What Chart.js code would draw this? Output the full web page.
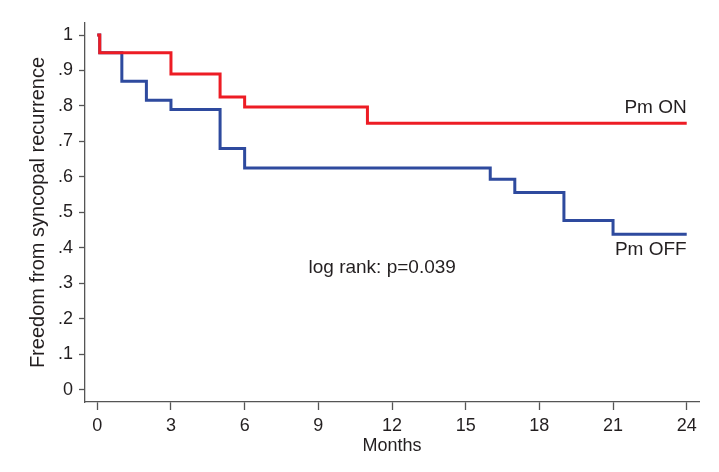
<!DOCTYPE html>
<html>
<head>
<meta charset="utf-8">
<script src="https://cdn.jsdelivr.net/npm/chart.js@4.4.0/dist/chart.umd.min.js"></script>
<style>
html,body{margin:0;padding:0;background:#fff;}
#wrap{width:719px;height:472px;position:relative;}
</style>
</head>
<body>
<div id="wrap"><canvas id="c"></canvas></div>
<script>
// Kaplan-Meier step data (time in months, survival after event)
const pmOnTimes   = [0, 0.1, 3, 5, 6, 11, 24];
const pmOnValues  = [1, 0.95, 0.89, 0.825, 0.797, 0.751, 0.751];
const pmOffTimes  = [0, 0.1, 1, 2, 3, 5, 6, 16, 17, 19, 21, 24];
const pmOffValues = [1, 0.95, 0.87, 0.816, 0.79, 0.68, 0.625, 0.593, 0.556, 0.477, 0.438, 0.438];
const xTickValues = [0, 3, 6, 9, 12, 15, 18, 21, 24];
const yTickValues = [0, 0.1, 0.2, 0.3, 0.4, 0.5, 0.6, 0.7, 0.8, 0.9, 1];
const yTickLabels = ["0", ".1", ".2", ".3", ".4", ".5", ".6", ".7", ".8", ".9", "1"];
const seriesNames = ["Pm ON", "Pm OFF"];
const annotationText = "log rank: p=0.039";

const FONT = "'Liberation Sans', Arial, sans-serif";
const TEXT = '#231f20';
const AXIS = '#555555';

const toPoints = (t, v) => t.map((x, i) => ({x: x, y: v[i]}));

const labelsPlugin = {
  id: 'labels',
  afterDatasetsDraw(chart) {
    const {ctx, scales: {x, y}} = chart;
    ctx.save();
    ctx.font = '19px ' + FONT;
    ctx.fillStyle = TEXT;
    ctx.textBaseline = 'middle';
    ctx.textAlign = 'right';
    ctx.fillText(seriesNames[0], x.getPixelForValue(24), y.getPixelForValue(0.794));
    ctx.fillText(seriesNames[1], x.getPixelForValue(24), y.getPixelForValue(0.395));
    ctx.textAlign = 'center';
    ctx.fillText(annotationText, x.getPixelForValue(11.6), y.getPixelForValue(0.345));
    ctx.restore();
  }
};

new Chart(document.getElementById('c'), {
  type: 'line',
  data: {
    datasets: [
      {
        label: seriesNames[0],
        data: toPoints(pmOnTimes, pmOnValues),
        borderColor: '#ed1c24',
        borderWidth: 3,
        stepped: 'before',
        pointRadius: 0,
        fill: false,
        order: 0,
        borderJoinStyle: 'miter'
      },
      {
        label: seriesNames[1],
        data: toPoints(pmOffTimes, pmOffValues),
        borderColor: '#2e4a9e',
        borderWidth: 3,
        stepped: 'before',
        pointRadius: 0,
        fill: false,
        order: 1,
        borderJoinStyle: 'miter'
      }
    ]
  },
  options: {
    responsive: true,
    maintainAspectRatio: false,
    animation: false,
    layout: {padding: {top: 23, right: 20, left: 0, bottom: 0}},
    plugins: {legend: {display: false}, tooltip: {enabled: false}},
    scales: {
      x: {
        type: 'linear',
        min: -0.5,
        max: 24.5,
        afterBuildTicks(scale) { scale.ticks = xTickValues.map(v => ({value: v})); },
        afterFit(scale) { scale.height = 70; },
        grid: {display: true, drawOnChartArea: false, drawTicks: true, tickLength: 8, color: AXIS, tickWidth: 1.3},
        border: {display: true, color: AXIS, width: 1.3},
        ticks: {color: TEXT, font: {family: FONT, size: 18}, padding: 5, maxRotation: 0, autoSkip: false},
        title: {display: true, text: 'Months', color: TEXT, font: {family: FONT, size: 18}, padding: {top: 0, bottom: 15}}
      },
      y: {
        type: 'linear',
        min: -0.035,
        max: 1.034,
        afterBuildTicks(scale) { scale.ticks = yTickValues.map(v => ({value: v})); },
        afterFit(scale) { scale.width = 85; },
        grid: {display: true, drawOnChartArea: false, drawTicks: true, tickLength: 6, color: AXIS, tickWidth: 1.3},
        border: {display: true, color: AXIS, width: 1.3},
        ticks: {
          color: TEXT, font: {family: FONT, size: 18}, padding: 6, autoSkip: false,
          callback: function(value) {
            const i = yTickValues.findIndex(v => Math.abs(v - value) < 1e-9);
            return i >= 0 ? yTickLabels[i] : '';
          }
        },
        title: {display: true, text: 'Freedom from syncopal recurrence', color: TEXT, font: {family: FONT, size: 20}, padding: {top: 26, bottom: 0}}
      }
    }
  },
  plugins: [labelsPlugin]
});
</script>
</body>
</html>
